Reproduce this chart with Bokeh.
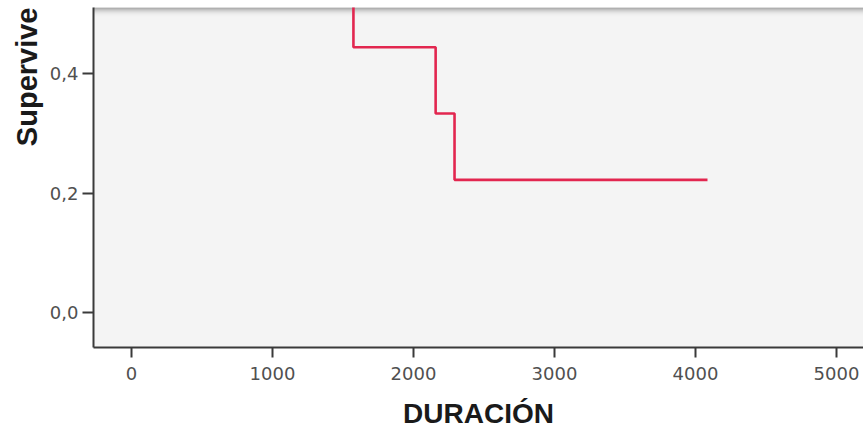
from bokeh.plotting import figure
from bokeh.models import FixedTicker, CustomJSTickFormatter, Title, ColumnDataSource, BoxAnnotation
from bokeh.embed import file_html
from bokeh.resources import INLINE

# ---- data ----
step_time = [1574, 1574, 2157, 2291, 4085]
step_surv = [0.556, 0.444, 0.333, 0.222, 0.222]
x_ticks = [0, 1000, 2000, 3000, 4000, 5000]
y_ticks = [0.0, 0.2, 0.4]
x_title = "DURACIÓN"
y_title = "Supervive"

# ---- layout ----
W, H = 863, 433
left_px, top_px, bottom_px = 93, 7, 86
px_per_x = 0.141          # pixels per day
px_per_y = 597.5          # pixels per unit survival
x0_px = 131 - left_px      # pixel offset of x=0 inside the frame
y0_px = 312                # canvas pixel of y=0

x_start = -x0_px / px_per_x
x_end = x_start + (W - left_px) / px_per_x
y_start = -(H - bottom_px - y0_px) / px_per_y
y_end = (y0_px - top_px) / px_per_y

p = figure(width=W, height=H, output_backend="svg", toolbar_location=None,
           x_range=(x_start, x_end), y_range=(y_start, y_end),
           min_border_left=left_px, min_border_right=0,
           min_border_top=top_px, min_border_bottom=bottom_px)
p.background_fill_color = "#f4f4f4"
p.border_fill_color = "white"
p.outline_line_color = None
p.grid.visible = False

for ax in (p.xaxis[0], p.yaxis[0]):
    ax.axis_line_color = "#3a3a3a"
    ax.axis_line_width = 2
    ax.major_tick_line_color = "#3a3a3a"
    ax.major_tick_line_width = 2
    ax.major_tick_in = 0
    ax.minor_tick_line_color = None
    ax.major_label_text_font = "DejaVu Sans"
    ax.major_label_text_font_size = "18px"
    ax.major_label_text_color = "#505050"

p.xaxis.ticker = FixedTicker(ticks=x_ticks)
p.xaxis.major_tick_out = 10
p.xaxis.major_label_standoff = 9
p.xaxis.axis_label = x_title
p.xaxis.axis_label_text_font = "Liberation Sans"
p.xaxis.axis_label_text_font_style = "bold"
p.xaxis.axis_label_text_font_size = "28px"
p.xaxis.axis_label_text_color = "#1a1a1a"
p.xaxis.axis_label_standoff = 15

p.yaxis.ticker = FixedTicker(ticks=y_ticks)
p.yaxis.major_tick_out = 11
p.yaxis.major_label_standoff = 4
p.yaxis.formatter = CustomJSTickFormatter(code="return tick.toFixed(1).replace('.', ',');")

# shadow band along the top edge of the frame (decoration)
shade_colors = ["#8c8c8c", "#a0a0a0", "#b4b4b4", "#c6c6c6", "#d4d4d4", "#dfdfdf", "#e8e8e8", "#eeeeee", "#f2f2f2"]
for i, c in enumerate(shade_colors):
    p.add_layout(BoxAnnotation(top=y_end - i / px_per_y, bottom=y_end - (i + 1.05) / px_per_y,
                               top_units="data", bottom_units="data",
                               fill_color=c, fill_alpha=1.0, line_color=None,
                               level="underlay"))

p.step(step_time, step_surv, mode="after", line_color="#e2264f", line_width=2.6)

# vertical y title, anchored at the top of the frame
p.add_layout(Title(text=y_title, align="right", text_font="Liberation Sans",
                   text_font_style="bold", text_font_size="29px",
                   text_color="#1a1a1a", standoff=7), "left")

open("out.html", "w").write(file_html(p, INLINE))
